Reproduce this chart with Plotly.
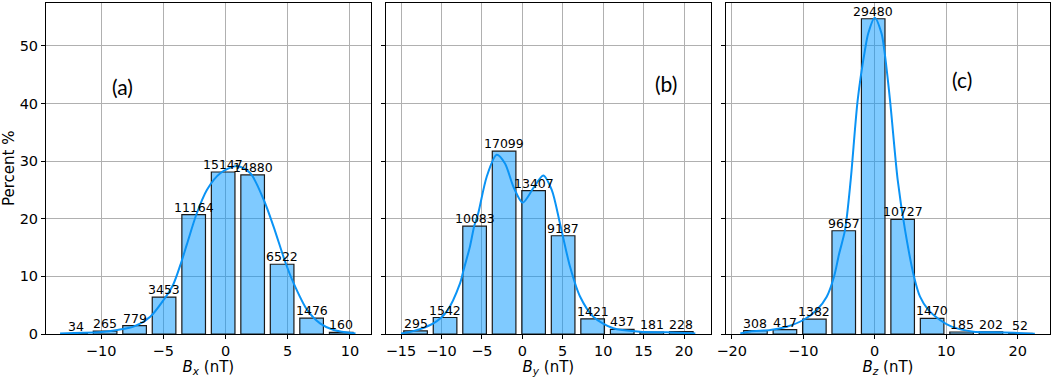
import plotly.graph_objects as go

W, H = 1052, 377

# ---------------- data ----------------
bx_centers = [-12.05, -9.68, -7.31, -4.94, -2.56, -0.19, 2.18, 4.55, 6.92, 9.30]
bx_counts = [34, 265, 779, 3453, 11164, 15147, 14880, 6522, 1476, 160]
bx_binwidth = 2.373

by_centers = [-13.20, -9.55, -5.90, -2.25, 1.40, 5.05, 8.70, 12.36, 16.01, 19.66]
by_counts = [295, 1542, 10083, 17099, 13407, 9187, 1421, 437, 181, 228]
by_binwidth = 3.651

bz_centers = [-16.68, -12.56, -8.44, -4.33, -0.21, 3.91, 8.03, 12.15, 16.26, 20.38]
bz_counts = [308, 417, 1382, 9657, 29480, 10727, 1470, 185, 202, 52]
bz_binwidth = 4.118

# KDE curves (percent)
xa_kde = [-13.3, -11.5, -10.0, -8.7, -7.4, -6.05, -4.98, -4.2, -3.55, -3.1, -2.35, -1.5,
          -0.42, 0.93, 2.0, 3.07, 3.87, 4.8, 5.48, 6.56, 7.6, 8.7, 10.45]
ya_kde = [0.1, 0.2, 0.35, 0.7, 1.27, 3.0, 5.9, 8.6, 12.5, 15.6, 20.7, 25.0,
          27.9, 29.17, 27.9, 23.3, 18.6, 12.5, 8.8, 4.2, 1.85, 0.7, 0.1]

xb_kde = [-15.0, -13.5, -11.0, -9.35, -7.7, -7.3, -6.47, -5.95, -5.44, -4.4, -3.17, -2.14,
          -1.11, 0.04, 1.36, 2.6, 3.64, 4.66, 5.9, 7.14, 8.78, 11.25, 14.56, 17.86, 21.4]
yb_kde = [0.1, 0.5, 1.85, 3.9, 8.8, 10.9, 15.2, 18.7, 21.0, 27.3, 31.1, 29.6,
          25.6, 22.8, 25.3, 27.5, 25.0, 19.2, 11.7, 6.5, 3.0, 1.0, 0.4, 0.3, 0.1]

xc_kde = [-18.8, -17.4, -14.6, -12.3, -9.98, -8.11, -6.71, -5.69, -5.0, -4.15, -3.36,
          -2.38, -1.36, -0.9, 0.0, 0.95, 1.34, 2.14, 3.22, 4.24, 5.5, 6.34, 7.5, 9.13,
          10.77, 13.8, 16.5, 19.5, 22.4]
yc_kde = [0.1, 0.45, 0.7, 1.27, 2.43, 4.17, 6.48, 9.95, 13.8, 18.06, 26.7,
          40.6, 49.3, 52.2, 54.9, 52.2, 49.3, 40.6, 26.7, 18.06, 9.95, 6.48, 4.17, 2.43,
          1.27, 0.4, 0.3, 0.2, 0.05]

panel_labels = ["(a)", "(b)", "(c)"]
panel_label_pos = [(-8.3, 43.0), (17.8, 43.4), (12.25, 44.1)]
x_titles = ["<i>B<sub>x</sub></i> (nT)", "<i>B<sub>y</sub></i> (nT)", "<i>B<sub>z</sub></i> (nT)"]
y_title = "Percent %"
y_ticks = [0, 10, 20, 30, 40, 50]
x_ticks = [[-10, -5, 0, 5, 10], [-15, -10, -5, 0, 5, 10, 15, 20], [-20, -10, 0, 10, 20]]

# ---------------- styling / layout ----------------
x_ranges = [[-14.43, 11.67], [-16.855, 23.3], [-20.8, 24.52]]
y_range = [0, 57.5]
dom_px = [(46, 370.7), (386, 710.7), (726, 1050)]
y_dom = [(377 - 334) / H, (377 - 2.7) / H]

BAR_FILL = "rgba(0,150,255,0.5)"
LINE_COL = "#0a93f5"
FONT = "DejaVu Sans"

panels = [
    (bx_centers, bx_counts, bx_binwidth, xa_kde, ya_kde),
    (by_centers, by_counts, by_binwidth, xb_kde, yb_kde),
    (bz_centers, bz_counts, bz_binwidth, xc_kde, yc_kde),
]

fig = go.Figure()
annotations = []
layout = {}
for i, (cent, cnt, bw, kx, ky) in enumerate(panels):
    n = i + 1
    xa = "x" if n == 1 else f"x{n}"
    ya = "y" if n == 1 else f"y{n}"
    total = sum(cnt)
    pct = [c / total * 100 for c in cnt]
    fig.add_trace(go.Bar(
        x=cent, y=pct, width=[0.8 * bw] * len(cent),
        marker=dict(color=BAR_FILL, line=dict(color="#1a1a1a", width=1.2)),
        xaxis=xa, yaxis=ya, showlegend=False, hoverinfo="skip",
    ))
    fig.add_trace(go.Scatter(
        x=kx, y=ky, mode="lines",
        line=dict(color=LINE_COL, width=2, shape="spline", smoothing=0.8),
        xaxis=xa, yaxis=ya, showlegend=False, hoverinfo="skip",
    ))
    for cx, p, c in zip(cent, pct, cnt):
        annotations.append(dict(
            x=cx, y=p, xref=xa, yref=ya, text=str(c), showarrow=False,
            xanchor="center", yanchor="bottom", yshift=-2,
            font=dict(family=FONT, size=12.5, color="black"),
        ))
    lx, ly = panel_label_pos[i]
    annotations.append(dict(
        x=lx, y=ly, xref=xa, yref=ya, text=panel_labels[i], showarrow=False,
        xanchor="center", yanchor="middle",
        font=dict(family="Lato", size=21, color="black"),
    ))
    d0, d1 = dom_px[i]
    layout["xaxis" if n == 1 else f"xaxis{n}"] = dict(
        domain=[d0 / W, d1 / W], range=x_ranges[i], anchor=ya,
        tickmode="array", tickvals=x_ticks[i],
        ticks="outside", ticklen=4, tickwidth=1, tickcolor="black",
        showline=True, linecolor="black", linewidth=1, mirror=True,
        showgrid=True, gridcolor="#b0b0b0", gridwidth=1, zeroline=False,
        tickfont=dict(family=FONT, size=14.5, color="black"),
        title=dict(text=x_titles[i], standoff=0,
                   font=dict(family=FONT, size=15, color="black")),
        fixedrange=True,
    )
    layout["yaxis" if n == 1 else f"yaxis{n}"] = dict(
        domain=list(y_dom), range=y_range, anchor=xa,
        tickmode="array", tickvals=y_ticks,
        ticks="outside", ticklen=4, tickwidth=1, tickcolor="black",
        showticklabels=(n == 1),
        showline=True, linecolor="black", linewidth=1, mirror=True,
        showgrid=True, gridcolor="#b0b0b0", gridwidth=1, zeroline=False,
        tickfont=dict(family=FONT, size=14.5, color="black"),
        title=dict(text=y_title if n == 1 else "", standoff=6,
                   font=dict(family=FONT, size=15, color="black")),
        fixedrange=True,
    )

fig.update_layout(
    width=W, height=H,
    margin=dict(l=0, r=0, t=0, b=0, autoexpand=False),
    paper_bgcolor="white", plot_bgcolor="white",
    annotations=annotations,
    bargap=0,
    **layout,
)

fig.write_html(
    "out.html",
    config={"displayModeBar": False, "staticPlot": True},
    post_script="document.body.style.margin='0';document.body.style.overflow='hidden';",
)
